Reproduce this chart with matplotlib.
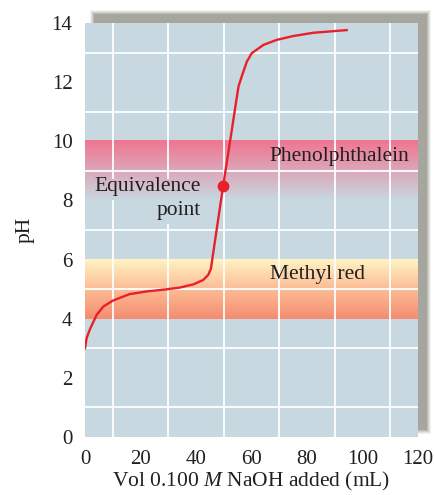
import numpy as np
import matplotlib
matplotlib.use('Agg')
import matplotlib.pyplot as plt
from matplotlib.colors import LinearSegmentedColormap, Normalize
from matplotlib.patches import Rectangle

# titration curve
vol = [0, 0.6, 1.8, 4.2, 6.6, 10, 16, 22, 29, 34, 39, 42.6, 44.4, 45.4, 46.0,
       49.8, 52.9, 55.3, 56.5, 58.3, 60.1, 64.3, 69.1, 75.1, 82.3, 94.3]
ph = [3.0, 3.35, 3.65, 4.13, 4.41, 4.61, 4.83, 4.92, 4.99, 5.05, 5.16, 5.31, 5.48, 5.7, 6.1,
      8.5, 10.38, 11.85, 12.2, 12.69, 12.98, 13.26, 13.43, 13.56, 13.67, 13.76]
eq_vol, eq_ph = 49.8, 8.5

xticks = [0, 20, 40, 60, 80, 100, 120]
yticks = [0, 2, 4, 6, 8, 10, 12, 14]

panel = '#c8d8e0'
txt = '#231f20'
plt.rcParams['font.family'] = ['Liberation Serif', 'DejaVu Serif']
plt.rcParams['mathtext.fontset'] = 'custom'
plt.rcParams['mathtext.it'] = 'Liberation Serif:italic'
plt.rcParams['mathtext.rm'] = 'Liberation Serif'

fig = plt.figure(figsize=(4.34, 4.95), dpi=100)

# soft drop shadow behind the panel
W, H = 434, 495
for i, a in zip(range(4, -1, -1), [0.12, 0.18, 0.25, 0.35, 0.65]):
    fig.patches.append(Rectangle(((94 - i) / W, (H - 430 - i) / H), (333 + 2 * i) / W, (416 + 2 * i) / H,
                                 transform=fig.transFigure, facecolor='#9c9b92', edgecolor='none',
                                 alpha=a, zorder=-5))

ax = fig.add_axes([85 / W, 58 / H, 333 / W, 414 / H])
ax.set_zorder(2)
ax.set_facecolor(panel)
ax.set_xlim(0, 120)
ax.set_ylim(0, 14)
for s in ax.spines.values():
    s.set_visible(False)

# indicator bands (vertical colour ramps)
pink = LinearSegmentedColormap.from_list('pp', [panel, '#f07490'])
orange = LinearSegmentedColormap.from_list('mr', [(0, '#f58c70'), (0.5, '#fcbc94'), (1, '#fff3c4')])
norm = Normalize(0, 1)
ramp = np.linspace(0, 1, 256).reshape(-1, 1)
ax.imshow(ramp, cmap=pink, norm=norm, extent=(0, 120, 8.0, 10.0), origin='lower', aspect='auto', zorder=1)
ax.imshow(ramp, cmap=orange, norm=norm, extent=(0, 120, 4.0, 6.0), origin='lower', aspect='auto', zorder=1)

ax.set_xticks(range(10, 120, 10), minor=True)
ax.set_yticks(range(1, 14), minor=True)
ax.grid(which='minor', color='white', lw=1.3, zorder=2)
ax.set_axisbelow(False)
ax.set_xticks(xticks)
ax.set_yticks(yticks)
ax.tick_params(which='both', length=0, labelsize=15, colors=txt)
ax.tick_params(axis='x', pad=9)
ax.tick_params(axis='y', pad=9)

# label background hides the grid behind "Equivalence point"
lo, hi = 8.02, 8.72
sub = np.linspace((lo - 8) / 2, (hi - 8) / 2, 64).reshape(-1, 1)
ax.imshow(sub, cmap=pink, norm=norm, extent=(2.9, 43.2, lo, hi), origin='lower', aspect='auto', zorder=3)
ax.add_patch(Rectangle((24.5, 7.2), 43.2 - 24.5, lo - 7.2, facecolor=panel, edgecolor='none', zorder=3))
ax.set_xlim(0, 120)
ax.set_ylim(0, 14)

ax.plot(vol, ph, color='#e8202a', lw=1.7, solid_joinstyle='round', zorder=4)
ax.plot([eq_vol], [eq_ph], 'o', color='#e8202a', ms=7.5, zorder=5)

ax.text(66.5, 9.5, 'Phenolphthalein', fontsize=15.5, color=txt, va='center', zorder=6)
ax.text(66.5, 5.48, 'Methyl red', fontsize=15.5, color=txt, va='center', zorder=6)
ax.text(41.7, 8.48, 'Equivalence', fontsize=15.5, color=txt, ha='right', va='center', zorder=6)
ax.text(41.7, 7.65, 'point', fontsize=15.5, color=txt, ha='right', va='center', zorder=6)

ax.set_xlabel('Vol 0.100 $M$ NaOH added (mL)', fontsize=15.5, color=txt, labelpad=1)
ax.set_ylabel('pH', fontsize=15.5, color=txt, labelpad=12)

fig.savefig('out.png', dpi=100)
